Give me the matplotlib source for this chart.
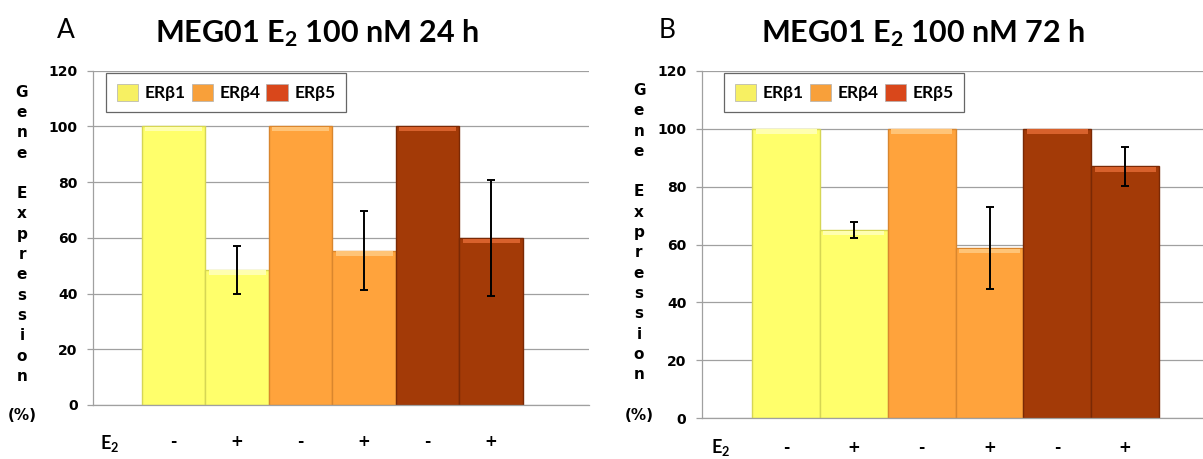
import matplotlib
matplotlib.use('Agg')
import matplotlib.pyplot as plt
from matplotlib.patches import Patch

plt.rcParams['font.family'] = ['Lato', 'DejaVu Sans']
plt.rcParams['mathtext.fontset'] = 'custom'
plt.rcParams['mathtext.rm'] = 'Lato:bold'
plt.rcParams['mathtext.it'] = 'Lato:bold'
plt.rcParams['mathtext.bf'] = 'Lato:bold'

# ---------------- data ----------------
genes = ['ERβ1', 'ERβ4', 'ERβ5']
e2_labels = ['-', '+', '-', '+', '-', '+']
yticks = [0, 20, 40, 60, 80, 100, 120]

# 24 h
vals_24h = [100, 48.5, 100, 55.4, 100, 59.9]
err_24h = [0, 8.5, 0, 14.1, 0, 20.8]
# 72 h
vals_72h = [100, 65.0, 100, 58.8, 100, 87.0]
err_72h = [0, 2.7, 0, 14.3, 0, 6.8]

bar_colors = ['#FFFF6B', '#FFFF6B', '#FFA33C', '#FFA33C', '#A33A07', '#A33A07']
edge_colors = ['#D6D654', '#D6D654', '#D9862E', '#D9862E', '#7A2905', '#7A2905']
top_colors = ['#FFFFB0', '#FFFFB0', '#FFC477', '#FFC477', '#D8612C', '#D8612C']
legend_colors = ['#F7F062', '#F8A03A', '#D9471B']

W, H = 1203, 459
fig = plt.figure(figsize=(W / 100, H / 100), dpi=100)


def add_ax(l, r, t, b):
    return fig.add_axes([l / W, 1 - b / H, (r - l) / W, (b - t) / H])


def panel(ax, vals, errs, xlim, leg_anchor, lab_y):
    x = list(range(len(vals)))
    ax.bar(x, vals, width=1.0, color=bar_colors, edgecolor=edge_colors,
           linewidth=1.0, zorder=2)
    # lighter bevel strip at the top of every bar
    ax.bar(x, [1.6] * len(vals), bottom=[v - 1.8 for v in vals], width=0.9,
           color=top_colors, linewidth=0, zorder=3)
    xe = [i for i in x if errs[i] > 0]
    ax.errorbar(xe, [vals[i] for i in xe], yerr=[errs[i] for i in xe],
                fmt='none', ecolor='black', elinewidth=1.4, capsize=3,
                capthick=1.4, zorder=4)

    ax.set_xlim(xlim)
    ax.set_ylim(0, 120)
    ax.set_yticks(yticks)
    ax.set_yticklabels([str(t) for t in yticks], family='DejaVu Sans',
                       fontweight='bold', fontsize=10)
    ax.set_xticks([])
    ax.yaxis.grid(True, color='#A0A0A0', linewidth=0.9, zorder=0)
    ax.set_axisbelow(True)
    ax.tick_params(axis='y', length=4.5, width=0.9, color='#A0A0A0', pad=6.5)
    for s in ['top', 'right']:
        ax.spines[s].set_visible(False)
    for s in ['left', 'bottom']:
        ax.spines[s].set_color('#A0A0A0')
        ax.spines[s].set_linewidth(0.9)

    for i, lab in enumerate(e2_labels):
        ax.text(i, lab_y, lab, transform=ax.get_xaxis_transform(),
                ha='center', va='center', family='DejaVu Sans',
                fontweight='bold', fontsize=11)

    handles = [Patch(facecolor=c, edgecolor='#B0B0B0', linewidth=0.5)
               for c in legend_colors]
    leg = ax.legend(handles, genes, loc='upper left', bbox_to_anchor=leg_anchor,
                    ncol=3, frameon=True, fancybox=False,
                    borderaxespad=0, borderpad=0.62, handlelength=1.25,
                    handleheight=1.15, handletextpad=0.35, columnspacing=0.35,
                    prop={'family': ['Lato', 'DejaVu Sans'], 'weight': 'bold',
                          'size': 12.5})
    leg.get_frame().set_edgecolor('#404040')
    leg.get_frame().set_linewidth(0.9)


axA = add_ax(93, 589, 70.7, 405)
panel(axA, vals_24h, err_24h, (-1.27, 6.54), (0.026, 0.993), -0.11)

axB = add_ax(701.7, 1203, 70.7, 418.3)
panel(axB, vals_72h, err_72h, (-1.246, 6.149), (0.0445, 0.9934), -0.083)

# panel letters and titles
fig.text(66 / W, 1 - 37.5 / H, 'A', ha='center', va='baseline', fontsize=19)
fig.text(667 / W, 1 - 37.5 / H, 'B', ha='center', va='baseline', fontsize=19)
fig.text(317 / W, 1 - 42 / H, r'MEG01 E$_{\mathbf{2}}$ 100 nM 24 h',
         ha='center', va='baseline', fontsize=22, fontweight='bold')
fig.text(923 / W, 1 - 42 / H, r'MEG01 E$_{\mathbf{2}}$ 100 nM 72 h',
         ha='center', va='baseline', fontsize=22, fontweight='bold')

# stacked y-axis label
letters = list('Gene') + [''] + list('Expression')
for xc, y0 in [(22, 96.7), (639, 95)]:
    for i, ch in enumerate(letters):
        fig.text(xc / W, 1 - (y0 + i * 20.3) / H, ch, ha='center',
                 va='baseline', family='DejaVu Sans', fontweight='bold',
                 fontsize=11)
    fig.text(xc / W, 1 - 420 / H, '(%)', ha='center', va='baseline',
             family='DejaVu Sans', fontweight='bold', fontsize=11)

# E2 row labels
fig.text(110 / W, 1 - 443 / H, r'E$_{\mathbf{2}}$', ha='center', va='center',
         fontsize=13, fontweight='bold')
fig.text(721 / W, 1 - 448 / H, r'E$_{\mathbf{2}}$', ha='center', va='center',
         fontsize=13, fontweight='bold')

fig.savefig('out.png', dpi=100)
